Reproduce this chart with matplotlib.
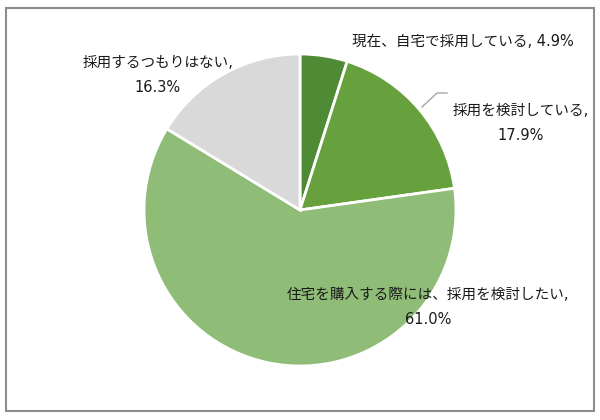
import matplotlib.pyplot as plt
from matplotlib.patches import Rectangle

# latin digits in DejaVu (Verdana-like), Japanese falls back to Noto CJK
plt.rcParams['font.family'] = ['DejaVu Sans', 'Noto Sans CJK JP']

labels = ["現在、自宅で採用している", "採用を検討している",
          "住宅を購入する際には、採用を検討したい", "採用するつもりはない"]
shares = [4.9, 17.9, 61.0, 16.3]
colors = ["#4f8a34", "#66a13e", "#8fbd78", "#d9d9d9"]

fig = plt.figure(figsize=(6, 4.2), dpi=100)
ax = fig.add_axes([0, 0, 1, 1])

ax.pie(shares, colors=colors, startangle=90, counterclock=False,
       center=(300, 210), radius=156,
       wedgeprops=dict(edgecolor="white", linewidth=2))
ax.set_xlim(0, 600)
ax.set_ylim(0, 420)
ax.set_aspect("equal")
ax.axis("off")

# outer frame
ax.add_patch(Rectangle((6, 9), 588, 403, fill=False, edgecolor="#8c8c8c", linewidth=1.5))

# data labels
txt = dict(fontsize=10.5, color="#1a1a1a", ha="center", va="center", linespacing=1.9)
ax.text(463, 378, f"{labels[0]}, {shares[0]}%", **txt)
ax.text(521, 297, f"{labels[1]},\n{shares[1]}%", **txt)
ax.text(428, 113, f"{labels[2]},\n{shares[2]}%", **txt)
ax.text(158, 345, f"{labels[3]},\n{shares[3]}%", **txt)

# leader line for the 17.9% label
ax.plot([422, 437, 447], [313, 327, 327], color="#a6a6a6", linewidth=1)

fig.savefig("out.png", dpi=100)
